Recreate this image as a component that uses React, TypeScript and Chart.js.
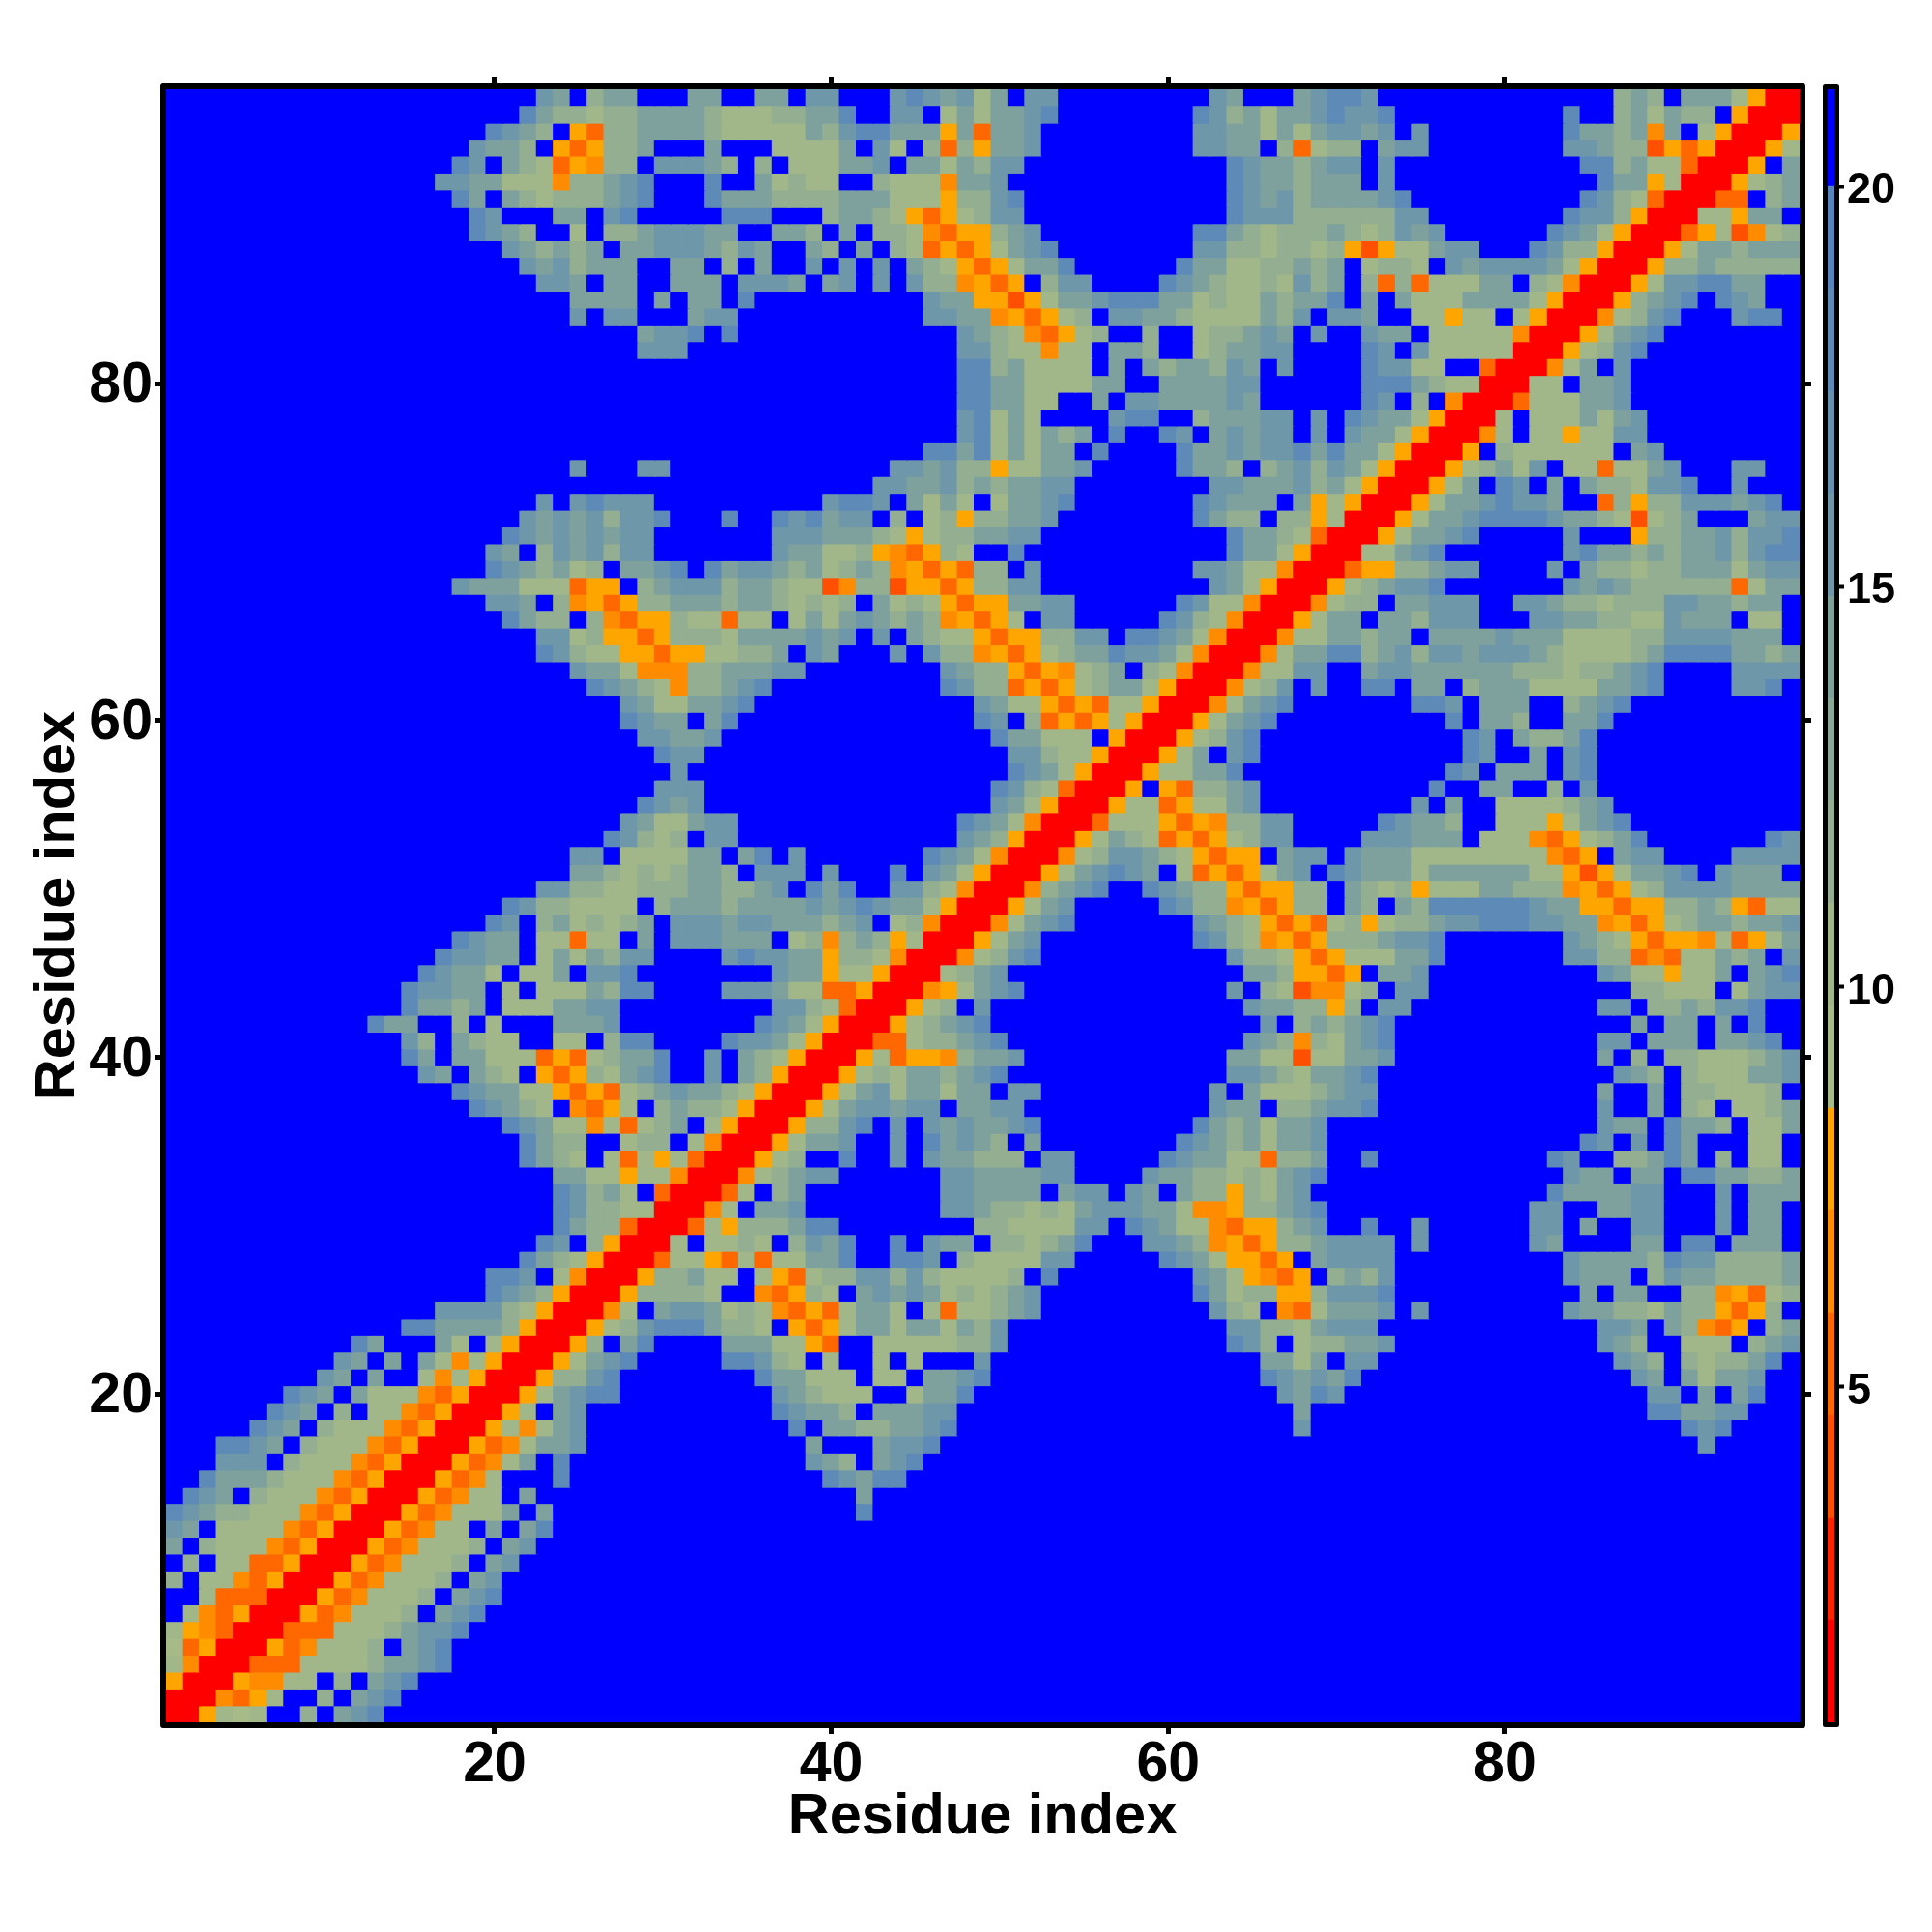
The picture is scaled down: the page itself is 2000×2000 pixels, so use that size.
import React, { useEffect, useRef } from "react";
import { Chart, registerables } from "chart.js";

Chart.register(...registerables);

// Distance bands of the colour key (Angstrom edges) and the colour of each band.
const BAND_EDGES = [0.8, 2.08, 3.36, 4.64, 5.92, 7.2, 8.48, 9.76, 11.04, 12.32, 13.6, 14.88, 16.16, 17.44, 18.72, 20.0, 21.28];
const BAND_COLORS = [
  "#ff0000", "#ff2400", "#ff4f00", "#ff6800", "#ff8c00", "#ffa500",
  "#a6bb87", "#a1b78a", "#93ae90", "#89a896", "#7fa19d", "#6f97aa", "#6690b0", "#5e8ab8", "#5784bd",
  "#0000ff",
];
const RESIDUES = 97;
const AXIS_TICKS = [20, 40, 60, 80];
const KEY_TICKS = [5, 10, 15, 20];
const AXIS_TITLE = "Residue index";

// Upper triangle of the symmetric map, one entry per residue y.
// "start:cells" = cells from residue x = start on; each cell is a band (hex), "." is the last band.
const TRIANGLE_ROWS = [
  "1:005767..8.abd",
  "2:004357..8.abd",
  "3:0054477.8.abd",
  "4:0033377778aabd",
  "5:005347778.abd",
  "6:003337778abbd",
  "7:005347778.abd",
  "8:005347778.abd",
  "9:005347778.ab",
  "10:005347778.ab",
  "11:005347778.ab",
  "12:0053477.a.ad",
  "13:00534777a.a 42:d",
  "14:0053477.a 42:a",
  "15:005347...d 40:dbadd",
  "16:005347a.d 39:ba8.abd",
  "17:005347aab 39:a...abbd 92:b",
  "18:005747ab 38:d.aa88aabd 68:b 91:dbd",
  "19:0057.ab 37:dbaa8.aaabb 68:a 89:ddaabb",
  "20:0057abdd 37:ba8777..7aad 67:badb 89:bb.a.ad",
  "21:00588bd 36:daa777.77.aabd 66:dbabad 88:ba.a7aab",
  "22:0057abd 34:ddb87.7..7.7...b 66:aa7a.bb 87:ba8.8788ad",
  "23:0058.ad 34:aaa7753..7777788b 64:db8.788aab 86:ba8..777.8ab",
  "24:00578bddda887.5357aa7aa7a8b 64:bb887abbb 86:bba.a8435.8a",
  "25:0047.abba78743537aa7.73778ab 63:b87.437aaab.b 84:baa887a885358.",
  "26:00588887..43587.ababa7878ab 62:da788558bbbd 85:a.aa..8845378",
  "27:00588a77.753788bb8b877778.d 62:ba75435.8a8b 84:baaa.8baa8888a",
  "28:00377537377aad..ddb.87777bb 60:dba75535.abbbb 84:baaaa8dbb8888a",
  "29:007.7787.8bad..d.baa.8878ad 59:bba8453588abbbb.b 82:ba....aa.dd.aaa.",
  "30:00375888add........887777bb.dba7743 65:558ab..d..b 82:bb.a..bb...b.aa.",
  "31:0047.aab........bba88787abbbaa7445 65:88abd 82:bb..aabb...b.aa.",
  "32:0037.8a........bbaaaa.abb.ba.a885 65:87ab 83:daaaabb...b.aaa",
  "33:00478abb......bbaaaabb....baa887 65:87abd 84:baa.aa.ddaa88a",
  "34:00578..d..b.baa888.bb.....dbaa7 65:7388a 72:d 83:db..88ada.8.77.",
  "35:0057aab..b.daba8.a........dba8 65:a7aab 85:db.b.da...77.",
  "36:00588bd.b.babaabd.........da8 65:a7aab 86:baa.daa8.77a",
  "37:0057abbabb.aabb 63:ba 65:a.88abbd 86:b..a.87.778a",
  "38:0057ab7aa7aa.bb 63:b.a7778abb 86:a..a.887778.",
  "39:005787aa8abd 64:bba87aabd 87:ba8.8777aab",
  "40:005735548aab 64:aa77277aab 86:a.8.887778ab",
  "41:0033788abd 65:ba8487abd 86:bb.aaa.aabd.",
  "42:00578abd 66:b.8a8abd 88:a.aa.a.d",
  "43:00578.b 65:baa8858.bb 86:bb.88a8bbd",
  "44:00457abd 64:b.8724478.bb 88:88777.7abb",
  "45:0078ab 65:aa85535.aab 86:ba77577a.abd",
  "46:00478bd 64:b887535777aad 84:bb8834377a8a.b",
  "47:0057ab 62:db874535888abbd 84:ba87535547357a",
  "48:0047abd 62:ba875353785788abbdddbb 84:aa453578aa8aab",
  "49:0057ab 60:db88453588.a8.a8ddddddbaa5535588a85377",
  "50:0048abd 59:dba88535588.a8785777aa888453578bbbbaaaa",
  "51:0057abdba.735357ab.dbaaa7aaaaaa775257aabd.baaa.",
  "52:00478bba875355.abb.baaa77777777435.abb....bbbb",
  "53:0057a87353578bb....bbbaaa.77743578ad.......db",
  "54:0037775354 64:88bb.....dbaa8..7775 84:7abd",
  "55:005773577a 65:b 75:b.a..77778ab",
  "56:005.5388ab 76:d..aa..8.b",
  "57:00577aad 77:db.aaa.bd",
  "58:0057a.bd 78:db..a.bd",
  "59:00578bd 78:db.a88ad",
  "60:0057abd 77:d.aa8..aad",
  "61:0047abd 75:ddb.aaa..8abd",
  "62:00478b.b..dd.aa.8aaa7777aabd....bbd",
  "63:00477bb..abbaaaaaa888788abd....bbbb",
  "64:0047aadd8ab8bbabbba877778addddaa8a",
  "65:00477aa8aa.aaaabaaa777788bbbbaaa.",
  "66:0057aa.aa8bbb...bbaa8877baaa.77.",
  "67:004788.aabbb..bba887888bbaa8aa.",
  "68:00578abbd.......baba88888837aa",
  "69:0035588abb....b.a88788aaa7abb",
  "70:0077abd.......bdaa8a8aab8bdd",
  "71:0057aabd.....b...588aab8bbd",
  "72:0057aabddddbaa87278a...abb",
  "73:0057aabdbba..38588bbbabd.",
  "74:0057a.db.a.a887bbd..b",
  "75:00578a7b.77377ab...bb",
  "76:005.8777777.ab",
  "77:0047.77577bb",
  "78:007.777a7ab",
  "79:003777aab",
  "80:0077.aab",
  "81:0047a.b",
  "82:00578bd",
  "83:0057abd",
  "84:00478bd 94:bdd",
  "85:0058abd.dba",
  "86:0057bbddaa",
  "87:00588a88888",
  "88:0057aa8aaa",
  "89:003572478",
  "90:00775aa.",
  "91:0033.8a",
  "92:00578a",
  "93:005.a",
  "94:0057",
  "95:005",
  "96:00",
  "97:0",
];

const FONT = "'Liberation Sans', Arial, sans-serif";

function buildCells() {
  const far = BAND_COLORS.length - 1;
  const grid: number[][] = Array.from({ length: RESIDUES + 1 }, () => Array(RESIDUES + 1).fill(far));
  for (const row of TRIANGLE_ROWS) {
    let y = 0;
    row.split(" ").forEach((part, i) => {
      const [s, c] = part.split(":");
      let cursor = Number(s);
      if (i === 0) y = cursor;
      for (const ch of c) {
        if (cursor <= RESIDUES) {
          const band = ch === "." ? far : parseInt(ch, 16);
          grid[y][cursor] = band;
          grid[cursor][y] = band;
        }
        cursor += 1;
      }
    });
  }
  const cells: { x: number; y: number; band: number }[] = [];
  for (let y = 1; y <= RESIDUES; y++) {
    for (let x = 1; x <= RESIDUES; x++) cells.push({ x, y, band: grid[y][x] });
  }
  return cells;
}

function framePlugin(width: number) {
  return {
    id: "frame",
    afterDraw(chart: any) {
      const { left, right, top, bottom } = chart.chartArea;
      const ctx = chart.ctx;
      ctx.save();
      ctx.strokeStyle = "#000";
      ctx.lineWidth = width;
      ctx.lineJoin = "round";
      ctx.strokeRect(left - width / 2, top - width / 2, right - left + width, bottom - top + width);
      ctx.restore();
    },
  };
}

function setWidth(w: number) {
  return (s: any) => {
    s.width = w;
  };
}
function setHeight(h: number) {
  return (s: any) => {
    s.height = h;
  };
}

function axis(position: string, extra: any) {
  return {
    type: "linear",
    position,
    min: 0.5,
    max: RESIDUES + 0.5,
    afterBuildTicks: (s: any) => {
      s.ticks = AXIS_TICKS.map((value) => ({ value }));
    },
    grid: { drawOnChartArea: false, drawTicks: true, tickLength: 12, tickWidth: 5, tickColor: "#000" },
    border: { display: false },
    ...extra,
  };
}

export default function App() {
  const mapRef = useRef<HTMLCanvasElement>(null);
  const keyRef = useRef<HTMLCanvasElement>(null);

  useEffect(() => {
    const cells = buildCells();
    const map = new Chart(mapRef.current as HTMLCanvasElement, {
      type: "scatter",
      data: {
        datasets: [
          {
            data: cells as any,
            pointStyle: "rect",
            borderWidth: 0,
            pointBorderWidth: 0,
            pointRadius: (c: any) => {
              const area = c.chart.chartArea;
              return area ? area.width / RESIDUES / Math.SQRT2 + 1.1 : 0;
            },
            pointBackgroundColor: (c: any) => BAND_COLORS[c.raw ? c.raw.band : 0],
            xAxisID: "x",
            yAxisID: "y",
          } as any,
        ],
      },
      options: {
        animation: false,
        responsive: false,
        events: [],
        layout: { padding: 0 },
        plugins: { legend: { display: false }, tooltip: { enabled: false } },
        scales: {
          x: axis("bottom", {
            afterFit: setHeight(217),
            ticks: { color: "#000", padding: -3, maxRotation: 0, font: { family: FONT, size: 59, weight: "bold" } },
            title: {
              display: true,
              text: AXIS_TITLE,
              color: "#000",
              padding: { top: 0, bottom: 83 },
              font: { family: FONT, size: 59.5, weight: "bold" },
            },
          }),
          y: axis("left", {
            afterFit: setWidth(172),
            ticks: { color: "#000", padding: 2, labelOffset: 3, font: { family: FONT, size: 59, weight: "bold" } },
            title: {
              display: true,
              text: AXIS_TITLE,
              color: "#000",
              padding: { top: 25, bottom: 0 },
              font: { family: FONT, size: 59.5, weight: "bold" },
            },
          }),
          xTop: axis("top", { afterFit: setHeight(92), ticks: { display: false } }),
          yRight: axis("right", { afterFit: setWidth(137), ticks: { display: false } }),
        },
      } as any,
      plugins: [framePlugin(6)],
    });

    const key = new Chart(keyRef.current as HTMLCanvasElement, {
      type: "bar",
      data: {
        labels: ["key"],
        datasets: BAND_COLORS.map((color, i) => ({
          data: [[BAND_EDGES[i], BAND_EDGES[i + 1]]] as any,
          backgroundColor: color,
          borderWidth: 0,
          grouped: false,
          categoryPercentage: 1,
          barPercentage: 1,
        })) as any,
      },
      options: {
        animation: false,
        responsive: false,
        events: [],
        layout: { padding: { left: 1892, top: 92, bottom: 217, right: 0 } },
        plugins: { legend: { display: false }, tooltip: { enabled: false } },
        scales: {
          x: { display: false },
          y: {
            type: "linear",
            position: "right",
            min: 0.8,
            max: 21.22,
            afterFit: setWidth(101),
            afterBuildTicks: (s: any) => {
              s.ticks = KEY_TICKS.map((value) => ({ value }));
            },
            grid: { drawOnChartArea: false, tickLength: 10, tickWidth: 4, tickColor: "#000" },
            border: { display: false },
            ticks: { color: "#000", padding: 3, labelOffset: 5, font: { family: FONT, size: 45, weight: "bold" } },
          },
        },
      } as any,
      plugins: [framePlugin(5)],
    });

    return () => {
      map.destroy();
      key.destroy();
    };
  }, []);

  const style: React.CSSProperties = { position: "absolute", left: 0, top: 0, width: 2000, height: 2000 };
  return (
    <div style={{ position: "absolute", left: 0, top: 0, width: 2000, height: 2000, background: "#fff" }}>
      <canvas ref={mapRef} width={2000} height={2000} style={style} />
      <canvas ref={keyRef} width={2000} height={2000} style={style} />
    </div>
  );
}
